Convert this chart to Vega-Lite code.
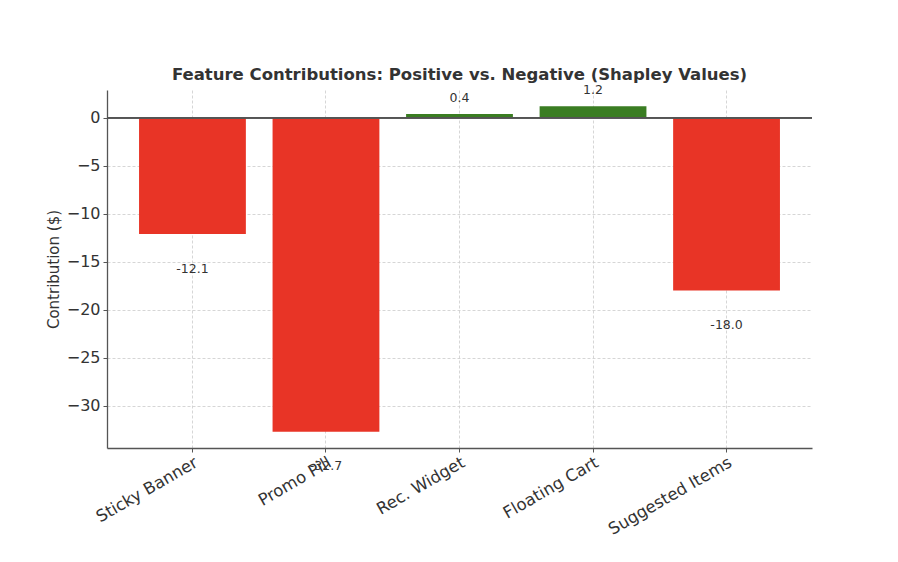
{
  "$schema": "https://vega.github.io/schema/vega-lite/v6.json",
  "autosize": "none",
  "width": 705,
  "height": 358,
  "padding": {"left": 107, "top": 90, "right": 86, "bottom": 114},
  "background": "white",
  "config": {
    "font": "DejaVu Sans",
    "view": {"stroke": null},
    "axis": {
      "labelFont": "DejaVu Sans",
      "titleFont": "DejaVu Sans",
      "labelColor": "#333333",
      "titleColor": "#333333",
      "domainColor": "#555555",
      "domainWidth": 1.3,
      "tickColor": "#555555",
      "tickSize": 4,
      "gridColor": "#cccccc",
      "gridDash": [3, 2],
      "gridWidth": 0.8,
      "zindex": 1
    }
  },
  "title": {
    "text": "Feature Contributions: Positive vs. Negative (Shapley Values)",
    "font": "DejaVu Sans",
    "fontSize": 16.5,
    "fontWeight": "bold",
    "color": "#333333",
    "anchor": "middle",
    "offset": 1
  },
  "data": {
    "values": [
      {"feature": "Sticky Banner", "value": -12.1, "label": "-12.1"},
      {"feature": "Promo Pill", "value": -32.7, "label": "-32.7"},
      {"feature": "Rec. Widget", "value": 0.4, "label": "0.4"},
      {"feature": "Floating Cart", "value": 1.2, "label": "1.2"},
      {"feature": "Suggested Items", "value": -18.0, "label": "-18.0"}
    ]
  },
  "encoding": {
    "x": {
      "field": "feature",
      "type": "nominal",
      "sort": null,
      "scale": {"paddingInner": 0.2, "paddingOuter": 0.24},
      "axis": {
        "title": null,
        "labelAngle": -30,
        "labelAlign": "right",
        "labelBaseline": "top",
        "labelFontSize": 16.5,
        "labelPadding": 2,
        "bandPosition": 0.5,
        "grid": true
      }
    },
    "y": {
      "field": "value",
      "type": "quantitative",
      "scale": {"domain": [-34.4, 2.9], "nice": false, "zero": false},
      "axis": {
        "title": "Contribution ($)",
        "titleFontSize": 15,
        "titleFontWeight": "normal",
        "titlePadding": 5,
        "labelFontSize": 16,
        "labelPadding": 3,
        "values": [0, -5, -10, -15, -20, -25, -30],
        "grid": true,
        "gridOpacity": {"condition": {"test": "datum.value === 0", "value": 0}, "value": 1}
      }
    }
  },
  "layer": [
    {
      "mark": {"type": "bar"},
      "encoding": {
        "y2": {"datum": 0},
        "color": {
          "condition": {"test": "datum.value > 0", "value": "#3a7d22"},
          "value": "#e83426"
        }
      }
    },
    {
      "mark": {"type": "rule", "color": "#555555", "strokeWidth": 1.3},
      "encoding": {"y": {"datum": 0}, "x": null}
    },
    {
      "transform": [{"filter": "datum.value > 0"}],
      "mark": {"type": "text", "baseline": "bottom", "dy": -9, "fontSize": 12.5, "color": "#333333"},
      "encoding": {"text": {"field": "label"}}
    },
    {
      "transform": [{"filter": "datum.value < 0"}],
      "mark": {"type": "text", "baseline": "top", "dy": 28.8, "fontSize": 12.5, "color": "#333333"},
      "encoding": {"text": {"field": "label"}}
    }
  ]
}
